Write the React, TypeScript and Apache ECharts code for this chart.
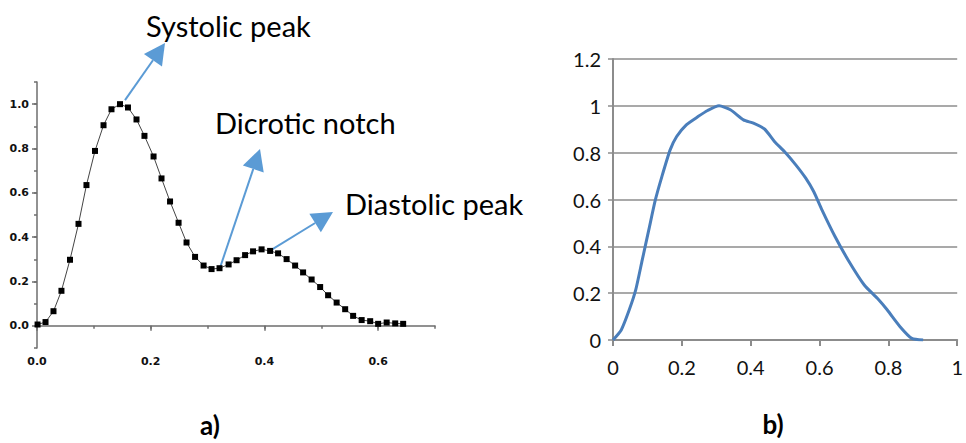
import React, { useEffect, useRef } from "react";
import * as echarts from "echarts";

// ---- Panel a) : pulse waveform (sampled points) ----
const leftX = [0.001, 0.015, 0.029, 0.043, 0.058, 0.073, 0.087, 0.102, 0.117, 0.131, 0.146, 0.160, 0.175, 0.189, 0.205, 0.219, 0.234, 0.249, 0.263, 0.278, 0.293, 0.307, 0.321, 0.337, 0.351, 0.366, 0.380, 0.395, 0.410, 0.424, 0.439, 0.454, 0.468, 0.483, 0.498, 0.512, 0.527, 0.542, 0.556, 0.571, 0.586, 0.600, 0.615, 0.630, 0.644];
const leftY = [0.006, 0.017, 0.066, 0.158, 0.298, 0.46, 0.635, 0.789, 0.905, 0.977, 1.0, 0.985, 0.931, 0.857, 0.764, 0.665, 0.561, 0.465, 0.376, 0.311, 0.272, 0.256, 0.260, 0.277, 0.296, 0.319, 0.336, 0.345, 0.338, 0.327, 0.301, 0.272, 0.241, 0.209, 0.175, 0.138, 0.105, 0.075, 0.045, 0.026, 0.021, 0.009, 0.015, 0.011, 0.009];
const leftYTicks = [0, 0.2, 0.4, 0.6, 0.8, 1.0];
const leftXTicks = [0, 0.2, 0.4, 0.6];

// ---- Panel b) : pulse waveform (line) ----
const rightX = [0, 0.024, 0.047, 0.066, 0.085, 0.104, 0.123, 0.142, 0.166, 0.185, 0.213, 0.247, 0.275, 0.308, 0.341, 0.379, 0.408, 0.441, 0.469, 0.498, 0.531, 0.560, 0.583, 0.607, 0.645, 0.683, 0.730, 0.768, 0.797, 0.834, 0.868, 0.901];
const rightY = [0, 0.043, 0.128, 0.214, 0.342, 0.47, 0.598, 0.698, 0.812, 0.869, 0.919, 0.954, 0.980, 1.0, 0.983, 0.940, 0.926, 0.900, 0.848, 0.805, 0.748, 0.691, 0.634, 0.556, 0.442, 0.342, 0.235, 0.178, 0.128, 0.057, 0.007, 0];

// ---- Annotations (label, data point index it points from) ----
const annotationLabels = ["Systolic peak", "Dicrotic notch", "Diastolic peak"];
const annotationIndex = [10, 22, 28];
const panelLabels = ["a)", "b)"];

const ARROW = "#5b9bd5";

function arrow(sx: number, sy: number, tx: number, ty: number) {
  const dx = tx - sx, dy = ty - sy;
  const L = Math.hypot(dx, dy);
  const ux = dx / L, uy = dy / L;
  const hl = 21, hw = 11;
  const bx = tx - ux * hl, by = ty - uy * hl;
  const px = -uy, py = ux;
  return [
    { type: "line", silent: true, shape: { x1: sx, y1: sy, x2: bx, y2: by }, style: { stroke: ARROW, lineWidth: 2 } },
    { type: "polygon", silent: true, shape: { points: [[tx, ty], [bx + px * hw, by + py * hw], [bx - px * hw, by - py * hw]] }, style: { fill: ARROW } },
  ];
}

export default function App() {
  const ref = useRef<HTMLDivElement>(null);
  useEffect(() => {
    if (!ref.current) return;
    const chart = echarts.init(ref.current, undefined, { renderer: "svg" });
    const leftAxisColor = "#6e6e6e";
    const rightGray = "#8c8c8c";
    const leftLabel = { fontFamily: "DejaVu Sans", fontWeight: "bold" as const, fontSize: 11, color: "#111" };
    const rightLabel = { fontFamily: "Lato", fontSize: 20, color: "#111" };

    const option: any = {
      animation: false,
      backgroundColor: "#fff",
      grid: [
        { left: 37, top: 82, width: 398, height: 266 },
        { left: 613, top: 59, width: 352, height: 281 },
      ],
      xAxis: [
        {
          type: "value", gridIndex: 0, min: 0, max: 0.7, interval: 0.1,
          axisLine: { lineStyle: { color: leftAxisColor, width: 1.5 } },
          axisTick: { length: 3, lineStyle: { color: leftAxisColor, width: 1.5 } },
          axisLabel: { show: false }, splitLine: { show: false },
        },
        {
          type: "value", gridIndex: 0, min: 0, max: 0.7, position: "bottom",
          axisLine: { show: false },
          axisTick: { length: 5, customValues: leftXTicks, lineStyle: { color: leftAxisColor, width: 1.5 } },
          axisLabel: { ...leftLabel, customValues: leftXTicks, margin: 8, formatter: (v: number) => v.toFixed(1) },
          splitLine: { show: false },
        },
        {
          type: "value", gridIndex: 1, min: 0, max: 1, interval: 0.2,
          axisLine: { lineStyle: { color: rightGray, width: 2 } },
          axisTick: { length: 6, lineStyle: { color: rightGray, width: 2 } },
          axisLabel: { ...rightLabel, margin: 17, formatter: (v: number) => String(+v.toFixed(1)) },
          splitLine: { show: false },
        },
      ],
      yAxis: [
        {
          type: "value", gridIndex: 0, min: -0.1, max: 1.1, interval: 0.1, position: "left",
          axisLine: { show: true, lineStyle: { color: leftAxisColor, width: 1.5 } },
          axisTick: { show: true, length: 3, lineStyle: { color: leftAxisColor, width: 1.5 } },
          axisLabel: { show: false }, splitLine: { show: false },
        },
        {
          type: "value", gridIndex: 0, min: -0.1, max: 1.1, position: "left",
          axisLine: { show: false },
          axisTick: { show: true, length: 5, customValues: leftYTicks, lineStyle: { color: leftAxisColor, width: 1.5 } },
          axisLabel: { ...leftLabel, customValues: leftYTicks, margin: 8, formatter: (v: number) => v.toFixed(1) },
          splitLine: { show: false },
        },
        {
          type: "value", gridIndex: 1, min: 0, max: 1.2, interval: 0.2,
          axisLine: { show: true, lineStyle: { color: rightGray, width: 2 } },
          axisTick: { show: true, length: 5, lineStyle: { color: rightGray, width: 1.5 } },
          axisLabel: { ...rightLabel, margin: 12, formatter: (v: number) => String(+v.toFixed(1)) },
          splitLine: { show: true, lineStyle: { color: rightGray, width: 1.5 } },
        },
      ],
      series: [
        {
          type: "line", xAxisIndex: 0, yAxisIndex: 0,
          data: leftX.map((x, i) => [x, leftY[i]]),
          symbol: "rect", symbolSize: 6,
          itemStyle: { color: "#000" },
          lineStyle: { color: "#444", width: 1 },
        },
        {
          type: "line", xAxisIndex: 2, yAxisIndex: 2,
          data: rightX.map((x, i) => [x, rightY[i]]),
          showSymbol: false, smooth: 0.2,
          lineStyle: { color: "#4a7ebb", width: 3 },
        },
      ],
    };
    chart.setOption(option);

    const p = (i: number) => chart.convertToPixel({ gridIndex: 0 } as any, [leftX[i], leftY[i]]) as number[];
    const s0 = p(annotationIndex[0]);
    const s1 = p(annotationIndex[1]);
    const s2 = p(annotationIndex[2]);
    const textStyle = { fontFamily: "Lato", fontSize: 29, fill: "#000", verticalAlign: "middle" };
    const panelStyle = { fontFamily: "Lato", fontWeight: "bold", fontSize: 26, fill: "#000", align: "center", verticalAlign: "middle" };
    chart.setOption({
      graphic: [
        ...arrow(s0[0] + 5, s0[1] - 4, 165, 43),
        ...arrow(s1[0] + 1, s1[1] - 2, 260, 149),
        ...arrow(s2[0] - 2, s2[1] + 1, 333, 212),
        { type: "text", x: 146, y: 25, style: { ...textStyle, text: annotationLabels[0] } },
        { type: "text", x: 215, y: 122, style: { ...textStyle, text: annotationLabels[1] } },
        { type: "text", x: 345, y: 203, style: { ...textStyle, text: annotationLabels[2] } },
        { type: "text", x: 210, y: 425, style: { ...panelStyle, text: panelLabels[0] } },
        { type: "text", x: 773, y: 424, style: { ...panelStyle, text: panelLabels[1] } },
      ],
    });
    return () => chart.dispose();
  }, []);
  return <div ref={ref} style={{ position: "fixed", left: 0, top: 0, width: 966, height: 443, background: "#fff" }} />;
}
